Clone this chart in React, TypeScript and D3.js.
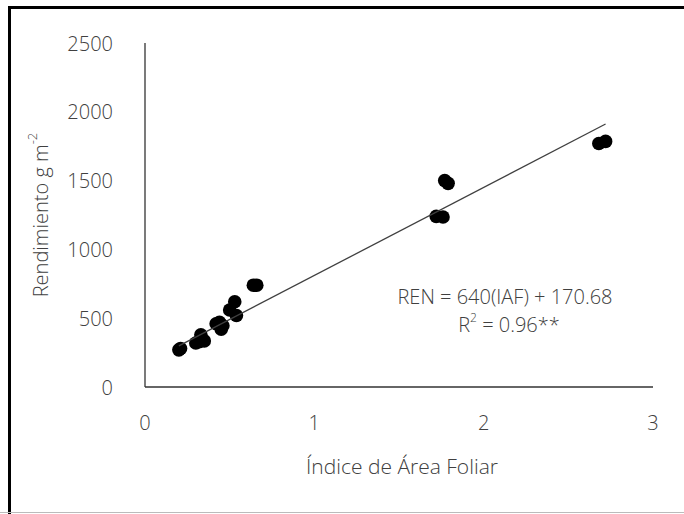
import React from "react";
import * as d3 from "d3";

const iaf = [0.2, 0.21, 0.3, 0.32, 0.33, 0.35, 0.42, 0.44, 0.45, 0.46, 0.5, 0.53, 0.54, 0.64, 0.66, 1.72, 1.76, 1.77, 1.79, 2.68, 2.72];
const ren = [270, 280, 320, 330, 380, 335, 460, 470, 420, 445, 560, 620, 520, 740, 740, 1240, 1235, 1500, 1480, 1770, 1785];
const xTicks = [0, 1, 2, 3];
const yTicks = [0, 500, 1000, 1500, 2000, 2500];
const slope = 640;
const intercept = 170.68;

const W = 684;
const H = 514;
const FONT = "'Open Sans', sans-serif";
const TXT = "#404040";

export default function App() {
  const x = d3.scaleLinear().domain([0, 3]).range([145, 653]);
  const y = d3.scaleLinear().domain([0, 2500]).range([387, 43]);
  const xMin = d3.min(iaf) as number;
  const xMax = d3.max(iaf) as number;
  const trend = d3.line<number>().x((d) => x(d)).y((d) => y(slope * d + intercept));
  return (
    <svg width={W} height={H} style={{ position: "absolute", left: 0, top: 0 }} fontFamily={FONT} fontWeight={300}>
      <rect x={0} y={0} width={W} height={H} fill="#fff" />
      <line x1={9.5} y1={6} x2={9.5} y2={H} stroke="#000" strokeWidth={3} />
      <line x1={8} y1={7.5} x2={W} y2={7.5} stroke="#000" strokeWidth={3} />
      <line x1={0} y1={512.5} x2={W} y2={512.5} stroke="#bbb" strokeWidth={1} />
      {/* axes */}
      <line x1={x(0)} y1={y(2500)} x2={x(0)} y2={y(0)} stroke="#333" strokeWidth={1.3} />
      <line x1={x(0)} y1={y(0)} x2={x(3)} y2={y(0)} stroke="#333" strokeWidth={1.3} />
      {yTicks.map((t) => (
        <text key={"y" + t} x={113} y={y(t)} textAnchor="end" dominantBaseline="central" fontSize={20} fill={TXT}>
          {t}
        </text>
      ))}
      {xTicks.map((t) => (
        <text key={"x" + t} x={x(t)} y={422} textAnchor="middle" dominantBaseline="central" fontSize={20} fill={TXT}>
          {t}
        </text>
      ))}
      {/* points */}
      {iaf.map((v, i) => (
        <circle key={i} cx={x(v)} cy={y(ren[i])} r={6.8} fill="#000" />
      ))}
      <path d={trend([xMin, xMax]) as string} stroke="#404040" strokeWidth={1.3} fill="none" />
      {/* equation */}
      <text x={505} y={296} textAnchor="middle" dominantBaseline="central" fontSize={20} fill={TXT}>
        REN = 640(IAF) + 170.68
      </text>
      <text x={509} y={324} textAnchor="middle" dominantBaseline="central" fontSize={20} fill={TXT}>
        R<tspan fontSize={12} dy={-7}>2</tspan>
        <tspan dy={7}> = 0.96**</tspan>
      </text>
      {/* axis titles */}
      <text x={402} y={466} textAnchor="middle" dominantBaseline="central" fontSize={21} fill={TXT}>
        Índice de Área Foliar
      </text>
      <text transform={`translate(40,215) rotate(-90)`} textAnchor="middle" dominantBaseline="central" fontSize={20} fill={TXT}>
        Rendimiento g m<tspan fontSize={13} dy={-8}>-2</tspan>
      </text>
    </svg>
  );
}
